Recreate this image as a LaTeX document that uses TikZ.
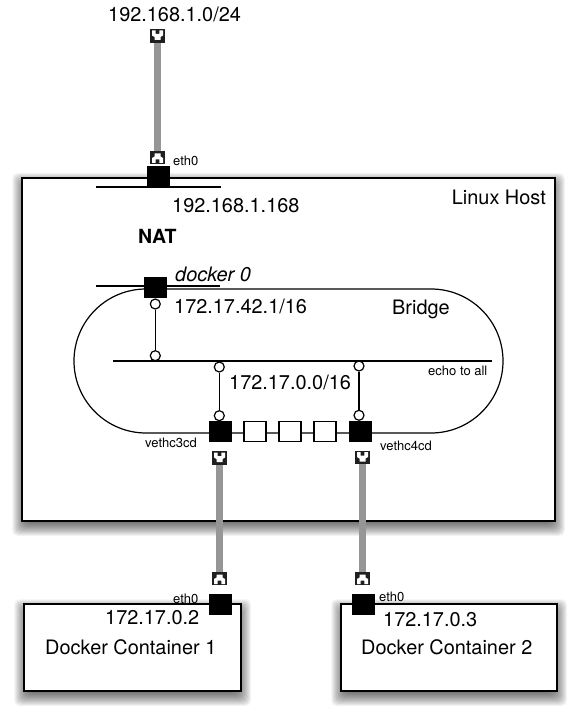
\documentclass[tikz,border=0pt]{standalone}
\usepackage{fontspec}
\usepackage{xcolor}
\usetikzlibrary{positioning, calc, backgrounds, shapes.misc}
\setmainfont{TeX Gyre Heros}
\definecolor{cablegray}{RGB}{150, 150, 150}

\tikzset{
    biglabel/.style={anchor=base west, inner sep=0pt, font=\fontsize{19.9}{22}\selectfont},
    smalllabel/.style={anchor=base west, inner sep=0pt, font=\fontsize{13}{15}\selectfont},
    wirebox/.style={draw=black, fill=white, line width=1.5pt, inner sep=0pt},
    blackport/.style={fill=black, inner sep=0pt, minimum width=23pt, minimum height=21pt},
    whiteport/.style={draw=black, fill=white, line width=1.2pt, inner sep=0pt, minimum width=22pt, minimum height=20pt},
    tapring/.style={circle, draw=black, fill=white, line width=1.2pt, inner sep=0pt, minimum size=10pt},
    netline/.style={line width=1.2pt, black},
    cable/.style={line width=6.5pt, cablegray},
    jackbase/.style={fill=black!88, inner sep=0pt, minimum width=15pt, minimum height=13.5pt},
    jackdown/.style={jackbase, path picture={
        \fill[white, shift={(path picture bounding box.center)}]
            (-5.5,-5.5) -- (-1.8,-5.5) -- (-1.8,-2) -- (1.8,-2) -- (1.8,-5.5) -- (5.5,-5.5) -- (5.5,-0.5)
            -- (3,1) -- (3,4) -- (-3,4) -- (-3,1) -- (-5.5,-0.5) -- cycle;}},
    jackup/.style={jackbase, path picture={
        \fill[white, shift={(path picture bounding box.center)}]
            (-5.5,5.5) -- (-1.8,5.5) -- (-1.8,2) -- (1.8,2) -- (1.8,5.5) -- (5.5,5.5) -- (5.5,0.5)
            -- (3,-1) -- (3,-4) -- (-3,-4) -- (-3,-1) -- (-5.5,0.5) -- cycle;}},
}

% blurred shadow under a box, built from stacked translucent rectangles
\newcommand{\softshadow}[2]{%
    \foreach \k in {9,...,-5} {
        \fill[black, fill opacity=0.05, rounded corners=5pt]
            ([xshift=-\k pt, yshift=-\k pt-#2]#1.south west) rectangle
            ([xshift=\k pt, yshift=\k pt-#2]#1.north east);
    }
}

\begin{document}
\begin{tikzpicture}[x=1pt, y=-1pt]
    \useasboundingbox (0,0) rectangle (577,719);

    % Boxes
    \node[wirebox, minimum width=533pt, minimum height=343pt] (host) at (288.5,349.5) {};
    \node[wirebox, minimum width=217pt, minimum height=87pt] (boxone) at (132.5,647.5) {};
    \node[wirebox, minimum width=216pt, minimum height=87pt] (boxtwo) at (449,647.5) {};
    \begin{scope}[on background layer]
        \softshadow{host}{5pt}
        \softshadow{boxone}{5pt}
        \softshadow{boxtwo}{5pt}
    \end{scope}

    % Bridge outline
    \node[rounded rectangle, draw=black, line width=1.2pt, inner sep=0pt,
        minimum width=429pt, minimum height=144pt] (bridge) at (288.5,361) {};

    % Host network
    \coordinate (hostlinea) at (96,187);
    \coordinate (hostlineb) at (221,187);
    \draw[netline] (hostlinea) -- (hostlineb);
    \node[blackport] (etha) at (158.5,176.5) {};

    % docker 0
    \coordinate (dockerlinea) at (96,286);
    \coordinate (dockerlineb) at (220,286);
    \draw[netline] (dockerlinea) -- (dockerlineb);
    \node[blackport] (dockerport) at (155,287.5) {};

    % Echo line
    \coordinate (echolinea) at (113,361);
    \coordinate (echolineb) at (492,361);
    \draw[netline] (echolinea) -- (echolineb);

    % Bottom ports of the bridge
    \node[blackport] (vethone) at (220,431.5) {};
    \node[whiteport] (slotone) at (255,431.5) {};
    \node[whiteport] (slottwo) at (290,431.5) {};
    \node[whiteport] (slotthree) at (325,431.5) {};
    \node[blackport] (vethtwo) at (360,431.5) {};

    % Taps
    \node[tapring] (tapa) at (155.3,304) {};
    \node[tapring] (tapb) at (155.3,355.7) {};
    \node[tapring] (tapc) at (219.3,367) {};
    \node[tapring] (tapd) at (219.3,415.7) {};
    \node[tapring] (tape) at (359,366) {};
    \node[tapring] (tapf) at (359,415.3) {};
    \draw[netline] (tapa) -- (tapb);
    \draw[netline] (tapc) -- (tapd);
    \draw[netline] (tape) -- (tapf);

    % Container ports
    \node[blackport] (ethone) at (220,604.5) {};
    \node[blackport] (ethtwo) at (363,604.5) {};

    % Jacks
    \node[jackdown] (jacka) at (157.5,36) {};
    \node[jackup] (jackb) at (157.5,157.5) {};
    \node[jackdown] (jackc) at (219.5,458) {};
    \node[jackup] (jackd) at (219.5,578.5) {};
    \node[jackdown] (jacke) at (362.5,457.5) {};
    \node[jackup] (jackf) at (362.5,578.5) {};

    % Cables
    \draw[cable] (jacka) -- (jackb);
    \draw[cable] (jackc) -- (jackd);
    \draw[cable] (jacke) -- (jackf);

    % Labels
    \node[biglabel] (lanlabel) at (108,21.7) {192.168.1.0/24};
    \node[smalllabel] (ethlabela) at (173,166) {eth0};
    \node[biglabel] (hostiplabel) at (172,212.7) {192.168.1.168};
    \node[biglabel, font=\fontsize{19.5}{22}\selectfont\bfseries] (natlabel) at (138,243) {NAT};
    \node[biglabel, anchor=base east] (hostlabel) at (546,205) {Linux Host};
    \node[biglabel, font=\fontsize{19.9}{22}\selectfont\itshape] (dockerlabel) at (175,281) {docker 0};
    \node[biglabel] (dockeriplabel) at (174,313) {172.17.42.1/16};
    \node[biglabel] (bridgelabel) at (392,314) {Bridge};
    \node[biglabel] (netlabel) at (229,389) {172.17.0.0/16};
    \node[smalllabel] (echolabel) at (428,375) {echo to all};
    \node[smalllabel] (vethlabela) at (145,447) {vethc3cd};
    \node[smalllabel] (vethlabelb) at (380,450) {vethc4cd};
    \node[smalllabel] (ethlabelb) at (173,603) {eth0};
    \node[smalllabel] (ethlabelc) at (379,601) {eth0};
    \node[biglabel] (ipone) at (105,624) {172.17.0.2};
    \node[biglabel] (iptwo) at (383,626) {172.17.0.3};
    \node[biglabel] (nameone) at (45,654) {Docker Container 1};
    \node[biglabel] (nametwo) at (361,654) {Docker Container 2};
\end{tikzpicture}
\end{document}
